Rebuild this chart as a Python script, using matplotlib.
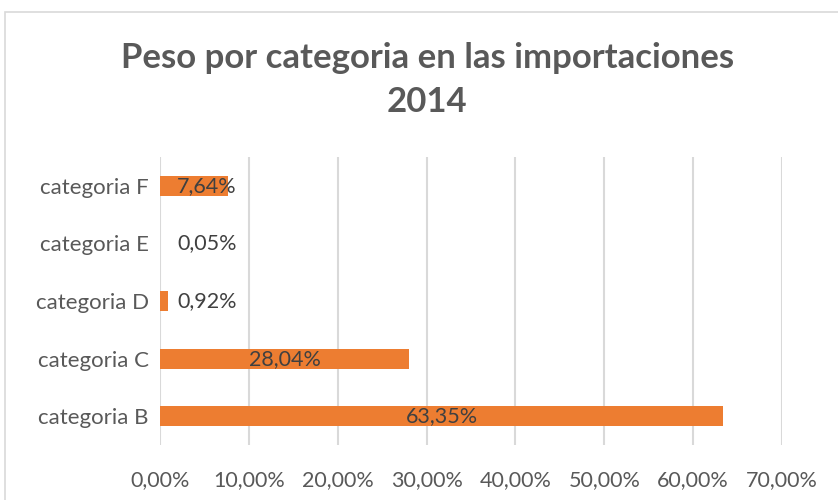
import matplotlib.pyplot as plt
from matplotlib.patches import Rectangle
import numpy as np

plt.rcParams['font.family'] = ['Lato', 'DejaVu Sans']

categories = ["categoria B", "categoria C", "categoria D", "categoria E", "categoria F"]
values = [63.35, 28.04, 0.92, 0.05, 7.64]
labels = ["63,35%", "28,04%", "0,92%", "0,05%", "7,64%"]
xticks = [0, 10, 20, 30, 40, 50, 60, 70]

fig = plt.figure(figsize=(8.38, 5), dpi=100)
# chart area border (Excel style)
fig.patches.append(Rectangle((5/838, -0.1), 1.0, 1.1 - 12/500, transform=fig.transFigure,
                             facecolor='none', edgecolor='#d9d9d9', linewidth=1.2))
ax = fig.add_axes([160/838, 55/500, 622/838, 288/500])

y = np.arange(len(categories))
ax.barh(y, values, height=0.35, color='#ED7D31', zorder=3)
for yi, v, lab in zip(y, values, labels):
    ax.text(max(v/2, 5.3), yi, lab, ha='center', va='center', fontsize=15.5, color='#404040', zorder=4)

ax.set_xlim(0, 70)
ax.set_ylim(-0.5, 4.5)
ax.set_yticks(y)
ax.set_yticklabels(categories, fontsize=16, color='#595959')
ax.set_xticks(xticks)
ax.set_xticklabels(["%d,00%%" % t for t in xticks], fontsize=15.5, color='#595959')
ax.tick_params(length=0, pad=8)
ax.tick_params(axis='x', pad=18)
ax.xaxis.grid(color='#d9d9d9', linewidth=1.5, zorder=0)
for s in ax.spines.values():
    s.set_visible(False)

fig.text(0.51, 1 - 58/500, "Peso por categoria en las importaciones", ha='center', va='center',
         fontsize=25, fontweight='bold', color='#595959')
fig.text(0.51, 1 - 102/500, "2014", ha='center', va='center',
         fontsize=25, fontweight='bold', color='#595959')

fig.savefig('out.png', dpi=100)
